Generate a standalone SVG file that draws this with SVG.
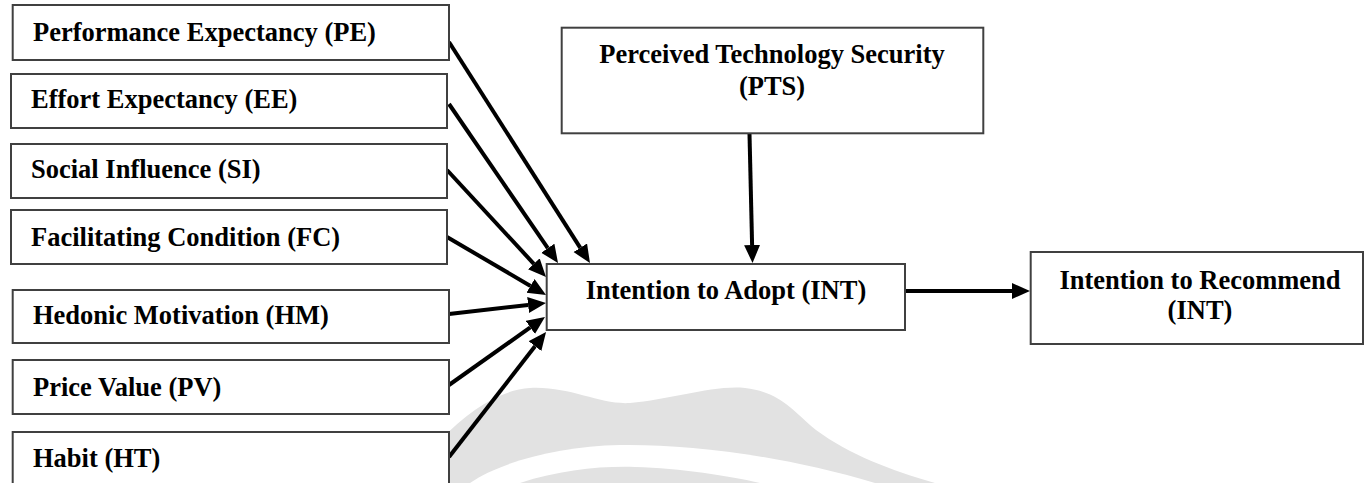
<svg xmlns="http://www.w3.org/2000/svg" width="1368" height="483" viewBox="0 0 1368 483">
  <style>
    .box { fill: #ffffff; stroke: #404040; stroke-width: 2; }
    .lbl { font-family: "Liberation Serif", "Times New Roman", serif; font-weight: bold; font-size: 26.5px; fill: #000000; }
    .mid { text-anchor: middle; }
    .edge { stroke: #000000; stroke-width: 4; fill: none; marker-end: url(#head); }
    .mark { fill: #e2e2e2; }
  </style>
  <defs>
    <marker id="head" markerUnits="userSpaceOnUse" markerWidth="19" markerHeight="17" refX="0" refY="8" orient="auto">
      <path d="M0,0 L18,8 L0,16 Z" fill="#000000"/>
    </marker>
  </defs>

  <rect width="1368" height="483" fill="#ffffff"/>

  <!-- faint background emblem -->
  <g id="emblem">
    <path class="mark" d="M440,483 L440,440 C470,410 500,390 530,388 C570,386 600,405 630,403 C670,400 712,385 745,388 C780,392 792,410 816,430 C850,455 890,470 935,483 Z"/>
    <path fill="#ffffff" d="M470,483 C500,462 560,446 620,445 C690,444 780,455 875,483 Z"/>
    <path class="mark" d="M520,483 C560,470 600,466 635,467 C680,468 730,476 760,483 Z"/>
  </g>

  <!-- connectors -->
  <g id="connectors">
    <line class="edge" x1="449" y1="42" x2="580.3" y2="247.8"/>
    <line class="edge" x1="449" y1="104" x2="547.8" y2="248.2"/>
    <line class="edge" x1="447" y1="170" x2="533.8" y2="263.8"/>
    <line class="edge" x1="447" y1="237" x2="530.5" y2="285.9"/>
    <line class="edge" x1="449" y1="314" x2="528.1" y2="305"/>
    <line class="edge" x1="449" y1="385" x2="530.3" y2="327.4"/>
    <line class="edge" x1="449" y1="457" x2="535" y2="346.2"/>
    <line class="edge" x1="749.5" y1="134" x2="752.1" y2="245"/>
    <line class="edge" x1="905" y1="291" x2="1012" y2="291"/>
  </g>

  <!-- predictors -->
  <g id="node-pe">
    <rect class="box" x="12.7" y="5" width="436.3" height="55"/>
    <text class="lbl" x="33" y="40.5">Performance Expectancy (PE)</text>
  </g>
  <g id="node-ee">
    <rect class="box" x="11" y="74" width="436" height="54"/>
    <text class="lbl" x="31" y="108">Effort Expectancy (EE)</text>
  </g>
  <g id="node-si">
    <rect class="box" x="11" y="144" width="436" height="54"/>
    <text class="lbl" x="31" y="178">Social Influence (SI)</text>
  </g>
  <g id="node-fc">
    <rect class="box" x="11" y="210" width="436" height="54"/>
    <text class="lbl" x="31" y="246">Facilitating Condition (FC)</text>
  </g>
  <g id="node-hm">
    <rect class="box" x="12.7" y="290" width="436.3" height="53"/>
    <text class="lbl" x="33" y="324">Hedonic Motivation (HM)</text>
  </g>
  <g id="node-pv">
    <rect class="box" x="12.7" y="360" width="436.3" height="54"/>
    <text class="lbl" x="33" y="396">Price Value (PV)</text>
  </g>
  <g id="node-ht">
    <rect class="box" x="12.7" y="432" width="436.3" height="60"/>
    <text class="lbl" x="33" y="467">Habit (HT)</text>
  </g>

  <!-- moderator -->
  <g id="node-pts">
    <rect class="box" x="561.7" y="27.7" width="421.6" height="105.6"/>
    <text class="lbl mid" x="772" y="63">Perceived Technology Security</text>
    <text class="lbl mid" x="772" y="95">(PTS)</text>
  </g>

  <!-- outcomes -->
  <g id="node-int">
    <rect class="box" x="546.7" y="264" width="358.3" height="66"/>
    <text class="lbl mid" x="726" y="298.5">Intention to Adopt (INT)</text>
  </g>
  <g id="node-ir">
    <rect class="box" x="1030.7" y="252" width="332.3" height="92"/>
    <text class="lbl mid" x="1200" y="288.5">Intention to Recommend</text>
    <text class="lbl mid" x="1200" y="318.5">(INT)</text>
  </g>
</svg>
